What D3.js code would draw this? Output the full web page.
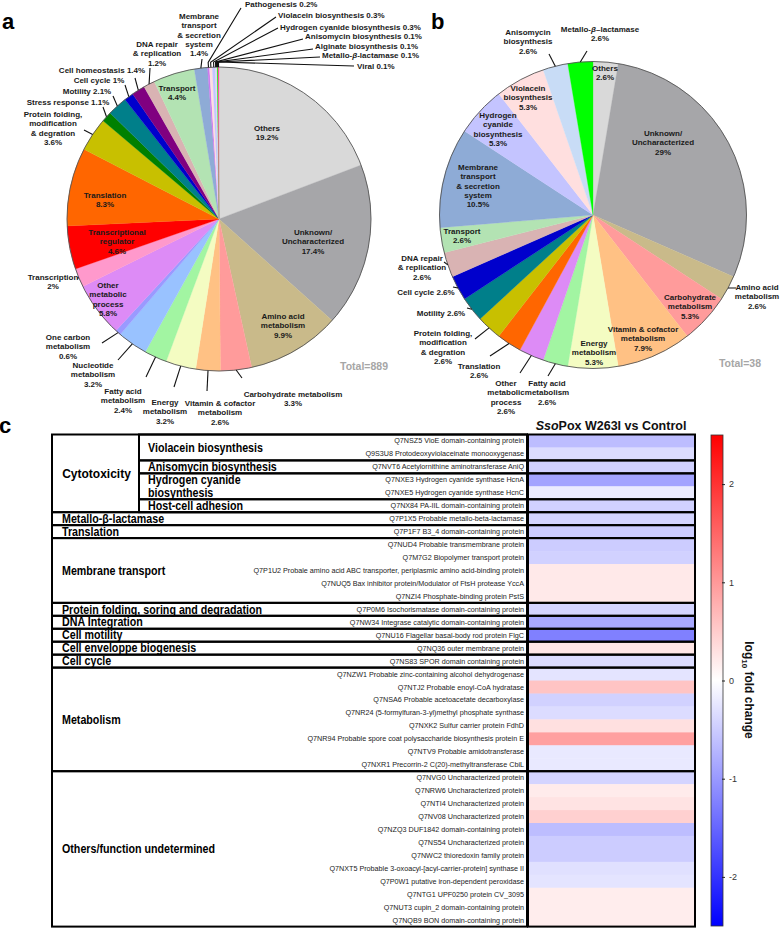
<!DOCTYPE html>
<html><head><meta charset="utf-8">
<script src="https://cdn.jsdelivr.net/npm/d3@7"></script>
<style>
body{margin:0;background:#fff;}
svg{display:block;font-family:"Liberation Sans",Arial,sans-serif;}
</style></head><body>
<svg id="chart" width="780" height="928"></svg>
<script>
// ================= DATA =================
// Panel a (Total = 889), percentages
const pieACategories = ["Others","Unknown/Uncharacterized","Amino acid metabolism","Carbohydrate metabolism","Vitamin & cofactor metabolism","Energy metabolism","Fatty acid metabolism","Nucleotide metabolism","One carbon metabolism","Other metabolic process","Transcription","Transcriptional regulator","Translation","Protein folding","Stress response","Motility","Cell cycle","Cell homeostasis","DNA repair & replication","Transport","Membrane transport","Pathogenesis","Violacein biosynthesis","Hydrogen cyanide biosynthesis","Anisomycin biosynthesis","Alginate biosynthesis","Metallo-β-lactamase","Viral"];
const pieAValues = [19.2,17.4,9.9,3.3,2.6,3.2,2.4,3.2,0.6,5.8,2,4.6,8.3,3.6,1.1,2.1,1,1.4,1.2,4.4,1.4,0.2,0.3,0.3,0.1,0.1,0.1,0.1];
const pieATotal = 889;

// Panel b (Total = 38), counts
const pieBCategories = ["Others","Unknown/Uncharacterized","Amino acid metabolism","Carbohydrate metabolism","Vitamin & cofactor metabolism","Energy metabolism","Fatty acid metabolism","Other metabolic process","Translation","Protein folding","Motility","Cell cycle","DNA repair & replication","Transport","Membrane transport","Hydrogen cyanide biosynthesis","Violacein biosynthesis","Anisomycin biosynthesis","Metallo-β-lactamase"];
const pieBCounts = [1,11,1,2,3,2,1,1,1,1,1,1,1,1,4,2,2,1,1];
const pieBPercentLabels = ["2.6%","29%","2.6%","5.3%","7.9%","5.3%","2.6%","2.6%","2.6%","2.6%","2.6%","2.6%","2.6%","2.6%","10.5%","5.3%","5.3%","2.6%","2.6%"];
const pieBTotal = 38;

// Panel c heatmap
const heatGroupNames = ["Cytotoxicity","Metallo-β-lactamase","Translation","Membrane transport","Protein folding, soring and degradation","DNA Integration","Cell motility","Cell enveloppe biogenesis","Cell cycle","Metabolism","Others/function undetermined"];
const heatGroupSizes = [6,1,1,5,1,1,1,1,1,8,12];
const cytoSubgroupNames = ["Violacein biosynthesis","Anisomycin biosynthesis","Hydrogen cyanide biosynthesis","Host-cell adhesion"];
const cytoSubgroupSizes = [2,1,2,1];
const heatRowLabels = [
 "Q7NSZ5 VioE domain-containing protein",
 "Q9S3U8 Protodeoxyviolaceinate monooxygenase",
 "Q7NVT6 Acetylornithine aminotransferase AniQ",
 "Q7NXE3 Hydrogen cyanide synthase HcnA",
 "Q7NXE5 Hydrogen cyanide synthase HcnC",
 "Q7NX84 PA-IIL domain-containing protein",
 "Q7P1X5 Probable metallo-beta-lactamase",
 "Q7P1F7 B3_4 domain-containing protein",
 "Q7NUD4 Probable transmembrane protein",
 "Q7M7G2 Biopolymer transport protein",
 "Q7P1U2 Probale amino acid ABC transporter, periplasmic amino acid-binding protein",
 "Q7NUQ5 Bax inhibitor protein/Modulator of FtsH protease YccA",
 "Q7NZI4 Phosphate-binding protein PstS",
 "Q7P0M6 Isochorismatase domain-containing protein",
 "Q7NW34 Integrase catalytic domain-containing protein",
 "Q7NU16 Flagellar basal-body rod protein FlgC",
 "Q7NQ36 outer membrane protein",
 "Q7NS83 SPOR domain containing protein",
 "Q7NZW1 Probable zinc-containing alcohol dehydrogenase",
 "Q7NTJ2 Probable enoyl-CoA hydratase",
 "Q7NSA6 Probable acetoacetate decarboxylase",
 "Q7NR24 (5-formylfuran-3-yl)methyl phosphate synthase",
 "Q7NXK2 Sulfur carrier protein FdhD",
 "Q7NR94 Probable spore coat polysaccharide biosynthesis protein E",
 "Q7NTV9 Probable amidotransferase",
 "Q7NXR1 Precorrin-2 C(20)-methyltransferase CbiL",
 "Q7NVG0 Uncharacterized protein",
 "Q7NRW6 Uncharacterized protein",
 "Q7NTI4 Uncharacterized protein",
 "Q7NV08 Uncharacterized protein",
 "Q7NZQ3 DUF1842 domain-containing protein",
 "Q7NS54 Uncharacterized protein",
 "Q7NWC2 thioredoxin family protein",
 "Q7NXT5 Probable 3-oxoacyl-[acyl-carrier-protein] synthase II",
 "Q7P0W1 putative iron-dependent peroxidase",
 "Q7NTG1 UPF0250 protein CV_3095",
 "Q7NUT3 cupin_2 domain-containing protein",
 "Q7NQB9 BON domain-containing protein"];
const heatLog10FC = [-0.65,-0.34,-0.45,-0.9,-0.2,-0.45,-0.42,-0.5,-0.5,-0.45,0.22,0.22,0.22,-0.42,-0.85,-1.25,0.25,-0.34,-0.26,0.58,-0.45,-0.34,0.3,0.93,-0.22,-0.22,-0.42,0.2,0.27,0.46,-0.65,-0.5,-0.5,-0.3,-0.26,0.18,0.18,0.18];
const colorbarTicks = [-2,-1,0,1,2];
const colorbarDomain = [-2.5, 2.5];

// ================= STYLE / LAYOUT =================
const categoryColors = {
 "Others":"#d9d9d9","Unknown/Uncharacterized":"#a6a6a9","Amino acid metabolism":"#c9ba8a",
 "Carbohydrate metabolism":"#ff9b9b","Vitamin & cofactor metabolism":"#ffc184","Energy metabolism":"#f4fcc2",
 "Fatty acid metabolism":"#a2f5a2","Nucleotide metabolism":"#99c2ff","One carbon metabolism":"#9a9aff",
 "Other metabolic process":"#dd8bf6","Transcription":"#ff99cc","Transcriptional regulator":"#ff0000",
 "Translation":"#ff6600","Protein folding":"#c8c000","Stress response":"#008000","Motility":"#007f8a",
 "Cell cycle":"#0000cc","Cell homeostasis":"#800080","DNA repair & replication":"#d9b3b3",
 "Transport":"#b3e3b3","Membrane transport":"#8eabd6","Pathogenesis":"#cc77ee",
 "Violacein biosynthesis":"#ffdfdf","Hydrogen cyanide biosynthesis":"#c4c4ff","Anisomycin biosynthesis":"#c8dcf6",
 "Alginate biosynthesis":"#ffccff","Metallo-β-lactamase":"#00ff00","Viral":"#ff4499"
};

const pieALayout = {cx:219, cy:219, r:152};
const pieBLayout = {cx:593, cy:215, r:153.5};

const pieALabels = {
 "Others":{lines:["Others"],x:267,y:128},
 "Unknown/Uncharacterized":{lines:["Unknown/","Uncharacterized"],x:313,y:232},
 "Amino acid metabolism":{lines:["Amino acid","metabolism"],x:283,y:316},
 "Carbohydrate metabolism":{lines:["Carbohydrate metabolism"],x:293,y:394,leader:[242,378]},
 "Vitamin & cofactor metabolism":{lines:["Vitamin & cofactor","metabolism"],x:220,y:403,leader:[207,391]},
 "Energy metabolism":{lines:["Energy","metabolism"],x:165,y:402,leader:[174,387]},
 "Fatty acid metabolism":{lines:["Fatty acid","metabolism"],x:123,y:391,leader:[146,377]},
 "Nucleotide metabolism":{lines:["Nucleotide","metabolism"],x:93,y:365,leader:[118,360]},
 "One carbon metabolism":{lines:["One carbon","metabolism"],x:68,y:337,leader:[102,343]},
 "Other metabolic process":{lines:["Other","metabolic","process"],x:108,y:285},
 "Transcription":{lines:["Transcription"],x:53,y:277,leader:[77,278]},
 "Transcriptional regulator":{lines:["Transcriptional","regulator"],x:117,y:232},
 "Translation":{lines:["Translation"],x:105,y:195},
 "Protein folding":{lines:["Protein folding,","modification","& degration"],x:53,y:114,leader:[84,130]},
 "Stress response":{lines:["Stress response"],inline:true,x:68,y:102,leader:[103,107]},
 "Motility":{lines:["Motility"],inline:true,x:87,y:91,leader:[113,96]},
 "Cell cycle":{lines:["Cell cycle"],inline:true,x:99,y:80,leader:[125,85]},
 "Cell homeostasis":{lines:["Cell homeostasis"],inline:true,x:102,y:70,leader:[135,78]},
 "DNA repair & replication":{lines:["DNA repair","& replication"],x:157,y:44,leader:[150,68]},
 "Transport":{lines:["Transport"],x:177,y:88},
 "Membrane transport":{lines:["Membrane","transport","& secretion","system"],x:199,y:16,leader:[202,59]},
 "Pathogenesis":{lines:["Pathogenesis"],inline:true,anchor:"start",x:245,y:3.8,leader:[241,8],kink:true},
 "Violacein biosynthesis":{lines:["Violacein biosynthesis"],inline:true,anchor:"start",x:278,y:15,leader:[276,17],kink:true},
 "Hydrogen cyanide biosynthesis":{lines:["Hydrogen cyanide biosynthesis"],inline:true,anchor:"start",x:280,y:27,leader:[278,28],kink:true},
 "Anisomycin biosynthesis":{lines:["Anisomycin biosynthesis"],inline:true,anchor:"start",x:305,y:36.5,leader:[303,39],kink:true},
 "Alginate biosynthesis":{lines:["Alginate biosynthesis"],inline:true,anchor:"start",x:315,y:46,leader:[313,49],kink:true},
 "Metallo-β-lactamase":{lines:["Metallo-β-lactamase"],inline:true,anchor:"start",x:322,y:55.5,leader:[320,57],kink:true},
 "Viral":{lines:["Viral"],inline:true,anchor:"start",x:357,y:66,leader:[354,66],kink:true}
};

const pieBLabels = {
 "Others":{lines:["Others"],x:605,y:68},
 "Unknown/Uncharacterized":{lines:["Unknown/","Uncharacterized"],x:663,y:133},
 "Amino acid metabolism":{lines:["Amino acid","metabolism"],x:757,y:287,leader:[736,288]},
 "Carbohydrate metabolism":{lines:["Carbohydrate","metabolism"],x:690,y:297},
 "Vitamin & cofactor metabolism":{lines:["Vitamin & cofactor","metabolism"],x:643,y:329},
 "Energy metabolism":{lines:["Energy","metabolism"],x:594,y:343},
 "Fatty acid metabolism":{lines:["Fatty acid","metabolism"],x:547,y:383,leader:[548,376]},
 "Other metabolic process":{lines:["Other","metabolic","process"],x:506,y:383,leader:[520,373]},
 "Translation":{lines:["Translation"],x:479,y:366,leader:[490,356]},
 "Protein folding":{lines:["Protein folding,","modification","& degration"],x:443,y:333,leader:[475,339]},
 "Motility":{lines:["Motility"],inline:true,x:441,y:313,leader:[467,308]},
 "Cell cycle":{lines:["Cell cycle"],inline:true,x:426,y:292,leader:[453,287]},
 "DNA repair & replication":{lines:["DNA repair","& replication"],x:422,y:258,leader:[444,262]},
 "Transport":{lines:["Transport"],x:462,y:231},
 "Membrane transport":{lines:["Membrane","transport","& secretion","system"],x:478,y:167},
 "Hydrogen cyanide biosynthesis":{lines:["Hydrogen","cyanide","biosynthesis"],x:498,y:115},
 "Violacein biosynthesis":{lines:["Violacein","biosynthesis"],x:528,y:88},
 "Anisomycin biosynthesis":{lines:["Anisomycin","biosynthesis"],x:528,y:32,leader:[549,54]},
 "Metallo-β-lactamase":{lines:["Metallo-β–lactamase"],x:600,y:29,leader:[587,51]}
};

const svg = d3.select("#chart");
const TXT = "#1a1a1a";

// text line with italic beta
function appendRich(parent, str) {
  const parts = str.split("β");
  parts.forEach((p, i) => {
    if (i > 0) parent.append("tspan").attr("font-style","italic").text("β");
    if (p) parent.append("tspan").text(p);
  });
}

function drawPie(g, cats, vals, pctLabels, layout, labels) {
  const {cx, cy, r} = layout;
  const data = cats.map((c, i) => ({cat:c, v:vals[i], pct:pctLabels[i]}));
  const pie = d3.pie().sort(null).value(d => d.v).startAngle(0).endAngle(2*Math.PI);
  const arcs = pie(data);
  const arc = d3.arc().innerRadius(0).outerRadius(r);
  const pg = g.append("g").attr("transform", `translate(${cx},${cy})`);
  pg.selectAll("path.slice").data(arcs).join("path")
    .attr("class","slice")
    .attr("d", arc)
    .attr("fill", d => categoryColors[d.data.cat])
    .attr("stroke", d => categoryColors[d.data.cat])
    .attr("stroke-width", 0.3);
  pg.append("circle").attr("r", r).attr("fill","none").attr("stroke","#555").attr("stroke-width",0.9);

  const pt = (a, rr) => [cx + rr*Math.sin(a), cy - rr*Math.cos(a)];
  // leaders
  arcs.forEach(d => {
    const L = labels[d.data.cat];
    if (!L || !L.leader) return;
    const mid = (d.startAngle + d.endAngle)/2;
    const p0 = pt(mid, r);
    const pts = [p0];
    if (L.kink) pts.push(pt(mid, r + 5));
    pts.push(L.leader);
    g.append("path").attr("d", d3.line()(pts))
      .attr("fill","none").attr("stroke","#111").attr("stroke-width",1.1);
  });
  // labels
  arcs.forEach(d => {
    const L = labels[d.data.cat];
    if (!L) return;
    const lines = L.inline ? L.lines.slice(0,-1).concat([L.lines[L.lines.length-1] + " " + d.data.pct])
                           : L.lines.concat([d.data.pct]);
    const t = g.append("text")
      .attr("text-anchor", L.anchor || "middle")
      .attr("font-size", 8).attr("font-weight","bold").attr("fill", TXT);
    lines.forEach((ln, i) => {
      const ts = t.append("tspan").attr("x", L.x).attr("y", L.y + i*9.4).attr("dy","0.35em");
      appendRich(ts, ln);
    });
  });
}

// ---------- Panel a ----------
const gA = svg.append("g");
drawPie(gA, pieACategories, pieAValues, pieAValues.map(v => v + "%"), pieALayout, pieALabels);
gA.append("text").attr("x", 2).attr("y", 29).attr("font-size", 22).attr("font-weight","bold").text("a");
gA.append("text").attr("x", 364).attr("y", 366).attr("dy","0.35em").attr("text-anchor","middle")
  .attr("font-size", 10.5).attr("font-weight","bold").attr("fill","#a6a6a6").text("Total=" + pieATotal);

// ---------- Panel b ----------
const gB = svg.append("g");
drawPie(gB, pieBCategories, pieBCounts, pieBPercentLabels, pieBLayout, pieBLabels);
gB.append("text").attr("x", 431).attr("y", 29).attr("font-size", 22).attr("font-weight","bold").text("b");
gB.append("text").attr("x", 740).attr("y", 363).attr("dy","0.35em").attr("text-anchor","middle")
  .attr("font-size", 10.5).attr("font-weight","bold").attr("fill","#a6a6a6").text("Total=" + pieBTotal);

// ---------- Panel c ----------
const gC = svg.append("g");
gC.append("text").attr("x", -1).attr("y", 433).attr("font-size", 22).attr("font-weight","bold").text("c");

const tableLeft = 52, subLeft = 139, tableRight = 527, heatLeft = 528, heatRight = 695;
const rowIds = heatRowLabels.map((s, i) => i);
const y = d3.scaleBand().domain(rowIds).range([434.5, 926.6]);
const color = d3.scaleLinear().domain([colorbarDomain[0], 0, colorbarDomain[1]]).range(["#0000ff","#ffffff","#ff0000"]);

function squeeze(sel, f) {
  sel.each(function() {
    const L = this.getComputedTextLength();
    d3.select(this).attr("textLength", L*f).attr("lengthAdjust","spacingAndGlyphs");
  });
}

// title
const title = gC.append("text").attr("x", 611).attr("y", 430).attr("text-anchor","middle")
  .attr("font-size", 12.5).attr("font-weight","bold").attr("fill","#111");
title.append("tspan").attr("font-style","italic").text("Sso");
title.append("tspan").text("Pox W263I vs Control");

// heat cells
gC.selectAll("rect.cell").data(rowIds).join("rect").attr("class","cell")
  .attr("x", heatLeft).attr("width", heatRight - heatLeft)
  .attr("y", d => y(d)).attr("height", y.bandwidth() + 0.4)
  .attr("fill", d => color(heatLog10FC[d]));

// protein labels
gC.selectAll("text.prot").data(rowIds).join("text").attr("class","prot")
  .attr("x", 524).attr("y", d => y(d) + y.bandwidth()/2).attr("dy","0.35em")
  .attr("text-anchor","end").attr("font-size", 7.2).attr("fill","#222")
  .text(d => heatRowLabels[d]);

// groups
const groups = [];
let start = 0;
heatGroupNames.forEach((n, i) => { groups.push({name:n, s:start, e:start + heatGroupSizes[i] - 1}); start += heatGroupSizes[i]; });
const subgroups = [];
start = groups[0].s;
cytoSubgroupNames.forEach((n, i) => { subgroups.push({name:n, s:start, e:start + cytoSubgroupSizes[i] - 1}); start += cytoSubgroupSizes[i]; });

const gy0 = g => y(g.s), gy1 = g => y(g.e) + y.bandwidth();

groups.forEach((g, gi) => {
  gC.append("rect").attr("x", tableLeft).attr("y", gy0(g)).attr("width", tableRight - tableLeft).attr("height", gy1(g) - gy0(g))
    .attr("fill","none").attr("stroke","#000").attr("stroke-width", 2);
  const cyMid = (gy0(g) + gy1(g))/2;
  if (gi === 0) {
    gC.append("text").attr("x", (tableLeft + subLeft)/2 + 1).attr("y", cyMid).attr("dy","0.35em")
      .attr("text-anchor","middle").attr("font-size", 12).attr("font-weight","bold").attr("fill","#000").text(g.name);
  } else {
    gC.append("text").attr("class","cat").attr("x", 62).attr("y", cyMid).attr("dy","0.35em")
      .attr("font-size", 12).attr("font-weight","bold").attr("fill","#000").text(g.name);
  }
  if (gi !== 0) {
    gC.append("rect").attr("x", heatLeft).attr("y", gy0(g)).attr("width", heatRight - heatLeft).attr("height", gy1(g) - gy0(g))
      .attr("fill","none").attr("stroke","#000").attr("stroke-width", 2);
  }
});
gC.append("line").attr("x1", subLeft).attr("x2", subLeft).attr("y1", gy0(groups[0])).attr("y2", gy1(groups[0]))
  .attr("stroke","#000").attr("stroke-width", 2);
subgroups.forEach(sg => {
  gC.append("rect").attr("x", subLeft).attr("y", gy0(sg)).attr("width", tableRight - subLeft).attr("height", gy1(sg) - gy0(sg))
    .attr("fill","none").attr("stroke","#000").attr("stroke-width", 2);
  gC.append("rect").attr("x", heatLeft).attr("y", gy0(sg)).attr("width", heatRight - heatLeft).attr("height", gy1(sg) - gy0(sg))
    .attr("fill","none").attr("stroke","#000").attr("stroke-width", 2);
  const n = sg.e - sg.s + 1;
  if (n === 2 && sg.name.startsWith("Hydrogen")) {
    ["Hydrogen cyanide","biosynthesis"].forEach((ln, k) => {
      gC.append("text").attr("class","cat").attr("x", 148).attr("y", y(sg.s + k) + y.bandwidth()/2).attr("dy","0.35em")
        .attr("font-size", 12).attr("font-weight","bold").attr("fill","#000").text(ln);
    });
  } else {
    gC.append("text").attr("class","cat").attr("x", 148).attr("y", (gy0(sg) + gy1(sg))/2).attr("dy","0.35em")
      .attr("font-size", 12).attr("font-weight","bold").attr("fill","#000").text(sg.name);
  }
});
squeeze(gC.selectAll("text.cat"), 0.89);

// colorbar
const cbX = 711, cbW = 12;
const cbY = d3.scaleLinear().domain(colorbarDomain).range([926, 435]);
const defs = svg.append("defs");
const grad = defs.append("linearGradient").attr("id","cbgrad").attr("x1",0).attr("y1",1).attr("x2",0).attr("y2",0);
[colorbarDomain[0], 0, colorbarDomain[1]].forEach(v => {
  grad.append("stop").attr("offset", (v - colorbarDomain[0])/(colorbarDomain[1]-colorbarDomain[0])).attr("stop-color", color(v));
});
gC.append("rect").attr("x", cbX).attr("y", cbY(colorbarDomain[1])).attr("width", cbW)
  .attr("height", cbY(colorbarDomain[0]) - cbY(colorbarDomain[1]))
  .attr("fill","url(#cbgrad)").attr("stroke","#333").attr("stroke-width", 0.8);
const axis = d3.axisRight(cbY).tickValues(colorbarTicks).tickSize(3).tickPadding(4).tickFormat(d => String(d));
const ag = gC.append("g").attr("transform", `translate(${cbX + cbW - 1},0)`).call(axis);
ag.select(".domain").remove();
ag.selectAll("line").attr("stroke","#222");
ag.selectAll("text").attr("font-size", 9).attr("fill","#333").attr("font-family",'"Liberation Sans",Arial,sans-serif');

const cbl = gC.append("text").attr("transform","translate(745,690) rotate(90)").attr("text-anchor","middle")
  .attr("font-size", 12).attr("font-weight","bold").attr("fill","#111");
cbl.append("tspan").text("log");
cbl.append("tspan").attr("font-size", 8).attr("dy", 3).text("10");
cbl.append("tspan").attr("dy", -3).text(" fold change");
</script>
</body></html>
